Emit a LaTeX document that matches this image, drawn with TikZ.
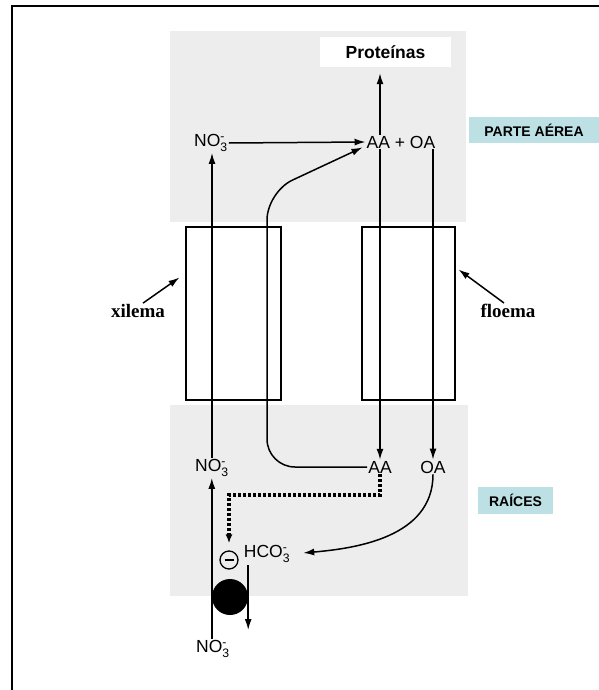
\documentclass[tikz,border=0pt]{standalone}
\usepackage{fontspec}
\setmainfont{Liberation Sans}
\newfontfamily\serifbold{Liberation Serif}
\usepackage{amsmath}
\usepackage{xcolor}
\definecolor{tagcyan}{HTML}{BCE0E4}
\definecolor{scan}{HTML}{EDEDED}
\usepackage{tikz}
\usetikzlibrary{arrows.meta}
\newcommand{\ionlbl}[1]{#1$^{\text{-}}_{\text{3}}$}

\begin{document}
\begin{tikzpicture}[x=1pt, y=-1pt,
    lbl/.style={font=\fontsize{17.5}{20}\selectfont, inner sep=1pt},
    tag/.style={fill=tagcyan, font=\bfseries\fontsize{14}{16}\selectfont, inner sep=0pt},
    tissue/.style={draw, line width=1.1pt, minimum width=95pt, minimum height=173pt, inner sep=0pt},
    side/.style={font=\serifbold\bfseries\fontsize{19}{21}\selectfont, inner sep=1pt},
    arr/.style={-{Latex[length=11pt, width=7pt]}, line width=1.5pt},
    dotline/.style={-{Latex[length=9pt, width=7pt]}, line width=3.5pt, dash pattern=on 3pt off 2pt}]
  \useasboundingbox (0,0) rectangle (599,690);
  \draw[line width=1.6pt] (11,6) -- (599,6) (12,5.2) -- (12,690);

  \fill[scan] (170,31) rectangle (466,222);
  \fill[scan] (170,405) rectangle (468,596);

  \node[tissue]                     (xb) at (233.5,313.5) {};
  \node[tissue, minimum width=93pt] (fb) at (408.5,313.5) {};

  \node[fill=white, minimum width=131pt, minimum height=30pt,
        font=\bfseries\fontsize{17.5}{19}\selectfont] (prot) at (385.5,52) {Proteínas};
  \node[tag, minimum width=130pt, minimum height=26pt] (pa) at (534,130)   {PARTE AÉREA};
  \node[tag, minimum width=75pt, minimum height=27pt]  (rc) at (515.5,500.5) {RAÍCES};

  \node[lbl] (n3t)  at (211,143) {\ionlbl{NO}};
  \node[lbl] (aaoa) at (401,142) {AA + OA};
  \node[lbl] (n3m)  at (212,468) {\ionlbl{NO}};
  \node[lbl] (aa)   at (380,467) {AA};
  \node[lbl] (oa)   at (433,467) {OA};
  \node[lbl] (hco)  at (267,554) {\ionlbl{HCO}};
  \node[lbl] (n3b)  at (213,649) {\ionlbl{NO}};
  \node[side] (xil) at (138,311) {xilema};
  \node[side] (flo) at (508,311) {floema};

  \node[draw, circle, line width=1.3pt, minimum size=18pt, inner sep=0pt] (neg) at (229,560) {};
  \node[circle, fill=black, minimum size=36pt, inner sep=0pt] (pump) at (230,597) {};
  \draw[line width=1.8pt] ([xshift=-4.5pt]neg.center) -- ([xshift=4.5pt]neg.center);

  \coordinate (bend) at (267,192);

  \draw[arr] (n3m.north) -- (n3m.north |- n3t.south);
  \draw[arr] (n3t.east) -- (aaoa.west);
  \draw[arr, shorten >=6pt] (aa.north |- aaoa.north) -- (aa.north |- prot.south);
  \draw[arr] (aa.north |- aaoa.south) -- (aa.north);
  \draw[arr] (oa.north |- aaoa.south) -- (oa.north);
  \draw[arr] (aa.west) [rounded corners=28pt] -| (bend) [rounded corners=7pt] -- ([xshift=-3pt,yshift=2pt]aaoa.south west);
  \draw[dotline, shorten >=7pt] (aa.south) -- ++(0,21) -| (neg.north);
  \draw[arr, shorten >=12pt] (oa.south) to[out=-90, in=5] (hco.east);
  \draw[arr] (pump.west |- n3b.north) -- (pump.west |- n3m.south);
  \draw[arr] ([yshift=32pt]pump.east) -- ([yshift=-33pt]pump.east);

  \draw[arr] ([xshift=5pt]xil.north) -- ([xshift=-6pt,yshift=36pt]xb.west);
  \draw[arr] ([xshift=-4pt]flo.north) -- ([xshift=3pt,yshift=44pt]fb.east);
\end{tikzpicture}
\end{document}
